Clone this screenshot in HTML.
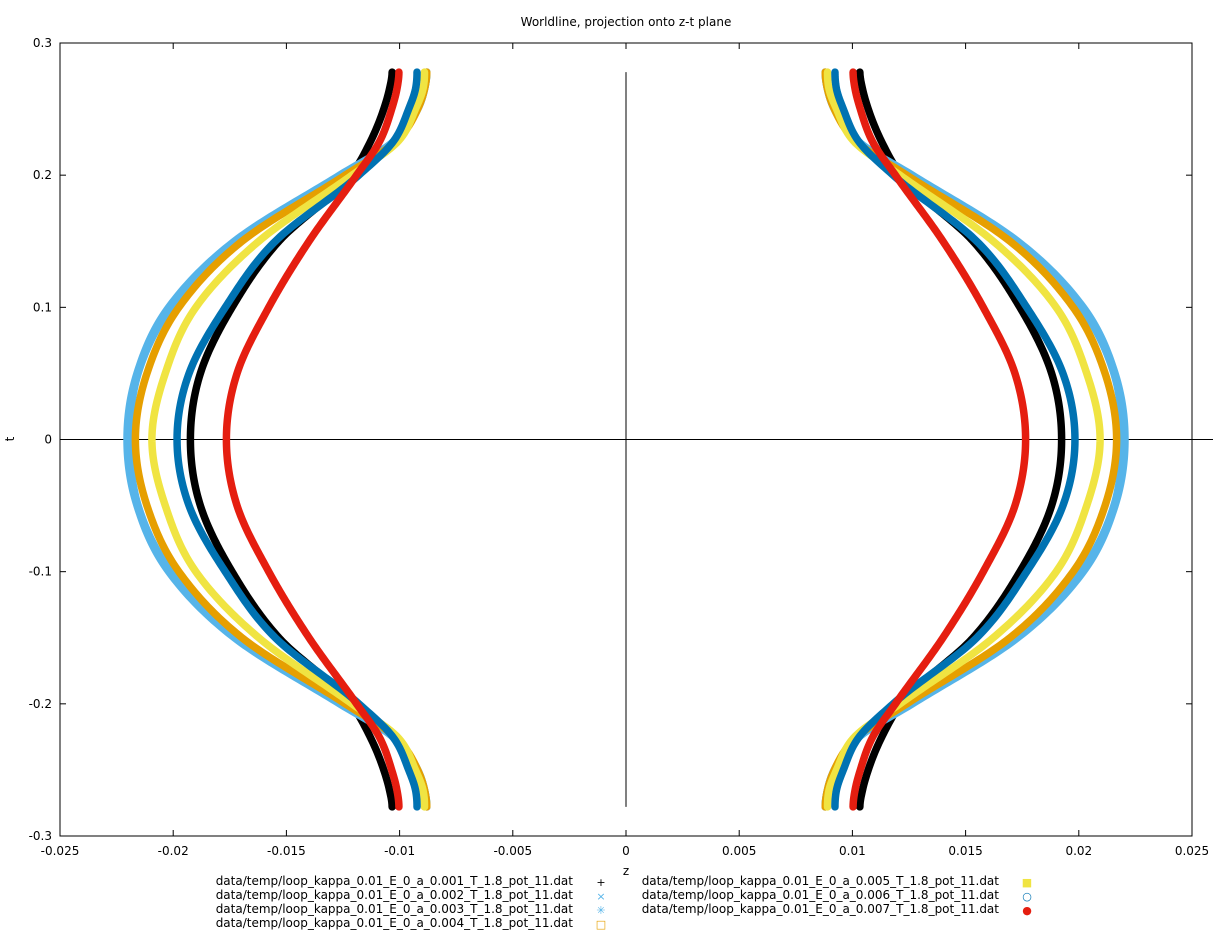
<!DOCTYPE html>
<html><head><meta charset="utf-8">
<style>
body{margin:0;background:#fff;}
svg{display:block;font-family:"DejaVu Sans","Liberation Sans",sans-serif;}
</style></head>
<body>
<svg id="chart" width="1213" height="936" viewBox="0 0 1213 936">
<text x="626" y="26" font-size="12" text-anchor="middle">Worldline, projection onto z-t plane</text>
<g id="axes"></g>
<g id="series"></g>
<g id="legend"></g>
<text x="626" y="875" font-size="12" text-anchor="middle">z</text>
<text x="14" y="439" font-size="12" text-anchor="middle" transform="rotate(-90 14 439)">t</text>
</svg>
<script>
const xTicks=[-0.025,-0.02,-0.015,-0.01,-0.005,0,0.005,0.01,0.015,0.02,0.025];
const xTickLabels=["-0.025","-0.02","-0.015","-0.01","-0.005","0","0.005","0.01","0.015","0.02","0.025"];
const yTicks=[0.3,0.2,0.1,0,-0.1,-0.2,-0.3];
const yTickLabels=["0.3","0.2","0.1","0","-0.1","-0.2","-0.3"];
const tSamples=[0,0.05,0.1,0.15,0.2,0.225,0.25,0.265,0.278];
const seriesNames=["data/temp/loop_kappa_0.01_E_0_a_0.001_T_1.8_pot_11.dat","data/temp/loop_kappa_0.01_E_0_a_0.002_T_1.8_pot_11.dat","data/temp/loop_kappa_0.01_E_0_a_0.003_T_1.8_pot_11.dat","data/temp/loop_kappa_0.01_E_0_a_0.004_T_1.8_pot_11.dat","data/temp/loop_kappa_0.01_E_0_a_0.005_T_1.8_pot_11.dat","data/temp/loop_kappa_0.01_E_0_a_0.006_T_1.8_pot_11.dat","data/temp/loop_kappa_0.01_E_0_a_0.007_T_1.8_pot_11.dat"];
const zS1=[0.01924,0.0188,0.0174,0.01533,0.01215,0.0113,0.0107,0.01045,0.01033];
const zS2=[0.0219,0.02155,0.0201,0.01725,0.0125,0.0103,0.0092,0.0089,0.0088];
const zS3=[0.02204,0.0216,0.0202,0.0173,0.01265,0.0103,0.0092,0.0089,0.0088];
const zS4=[0.02167,0.02116,0.01975,0.01696,0.0124,0.0102,0.0092,0.0089,0.0088];
const zS5=[0.02094,0.02035,0.0190,0.01622,0.0121,0.0101,0.0093,0.00897,0.0089];
const zS6=[0.01983,0.0193,0.0177,0.01549,0.0118,0.0103,0.0096,0.0093,0.00923];
const zS7=[0.01765,0.01718,0.01578,0.0140,0.0119,0.0109,0.01035,0.01012,0.01003];
const seriesColors=["#000000","#56b4e9","#56b4e9","#e69f00","#f0e442","#0072b2","#e51e10"];
const seriesData=[zS1,zS2,zS3,zS4,zS5,zS6,zS7];

const X0=60,X1=1192,Y0=43,Y1=836;
const xs=v=>X0+(v+0.025)/0.05*(X1-X0);
const ys=v=>Y1-(v+0.3)/0.6*(Y1-Y0);
const NS="http://www.w3.org/2000/svg";
function mk(tag,attrs,parent){const e=document.createElementNS(NS,tag);for(const k in attrs)e.setAttribute(k,attrs[k]);parent.appendChild(e);return e;}
const axes=document.getElementById('axes');
let frame=mk('rect',{x:X0,y:Y0,width:X1-X0,height:Y1-Y0,fill:'none',stroke:'#000','stroke-width':1},axes);


xTicks.forEach((v,i)=>{const x=xs(v);
 mk('line',{x1:x,x2:x,y1:Y1,y2:Y1-6,stroke:'#000'},axes);
 mk('line',{x1:x,x2:x,y1:Y0,y2:Y0+6,stroke:'#000'},axes);
 const t=mk('text',{x:x,y:Y1+19,'font-size':12,'text-anchor':'middle'},axes);t.textContent=xTickLabels[i];
 
 
});
yTicks.forEach((v,i)=>{const y=ys(v);
 mk('line',{x1:X0,x2:X0+6,y1:y,y2:y,stroke:'#000'},axes);
 mk('line',{x1:X1,x2:X1-6,y1:y,y2:y,stroke:'#000'},axes);
 const t=mk('text',{x:X0-8,y:y+4,'font-size':12,'text-anchor':'end'},axes);t.textContent=yTickLabels[i];
 
 
});
let hz=mk('line',{x1:X0,x2:1213,y1:ys(0),y2:ys(0),stroke:'#000'},axes);


let vz=mk('line',{x1:xs(0),x2:xs(0),y1:ys(0.278),y2:ys(-0.278),stroke:'#000'},axes);



// Smooth Hermite curve through the samples; zero slope at t=0 and at the loop ends
function hermite(ts,zs){
 const n=ts.length,m=new Array(n).fill(0);
 for(let i=1;i<n-1;i++){const h0=ts[i]-ts[i-1],h1=ts[i+1]-ts[i];
  const d0=(zs[i]-zs[i-1])/h0,d1=(zs[i+1]-zs[i])/h1;m[i]=(d0*h1+d1*h0)/(h0+h1);}
 return t=>{const a=Math.abs(t);let i=0;while(i<n-2&&a>ts[i+1])i++;
  const h=ts[i+1]-ts[i],s=Math.min(1,(a-ts[i])/h),s2=s*s,s3=s2*s;
  return (2*s3-3*s2+1)*zs[i]+(s3-2*s2+s)*h*m[i]+(-2*s3+3*s2)*zs[i+1]+(s3-s2)*h*m[i+1];};
}
const sg=document.getElementById('series');
seriesData.forEach((arr,si)=>{
 const f=hermite(tSamples,arr);
 const tmax=tSamples[tSamples.length-1];
 [1,-1].forEach(side=>{
  let d='';
  for(let k=0;k<=300;k++){const t=-tmax+2*tmax*k/300;
   d+=(k?'L':'M')+xs(side*f(t)).toFixed(2)+','+ys(t).toFixed(2);}
  const p=mk('path',{d:d,fill:'none',stroke:seriesColors[si],'stroke-width':7.5,'stroke-linecap':'round','stroke-linejoin':'round'},sg);
  
  
 });
});
const lg=document.getElementById('legend');
const markers=['+','×','✳','□','■','○','●'];
seriesNames.forEach((n,i)=>{
 const col=i<4?0:1,row=i<4?i:i-4;
 const tx=col?999:573,mx=col?1027:601,y=885+row*14;
 const t=mk('text',{x:tx,y:y,'font-size':12,'text-anchor':'end'},lg);t.textContent=n;
 
 
 const m=mk('text',{x:mx,y:y+1,'font-size':11,'text-anchor':'middle',fill:seriesColors[i]},lg);m.textContent=markers[i];
 
 
});
</script>
</body></html>
